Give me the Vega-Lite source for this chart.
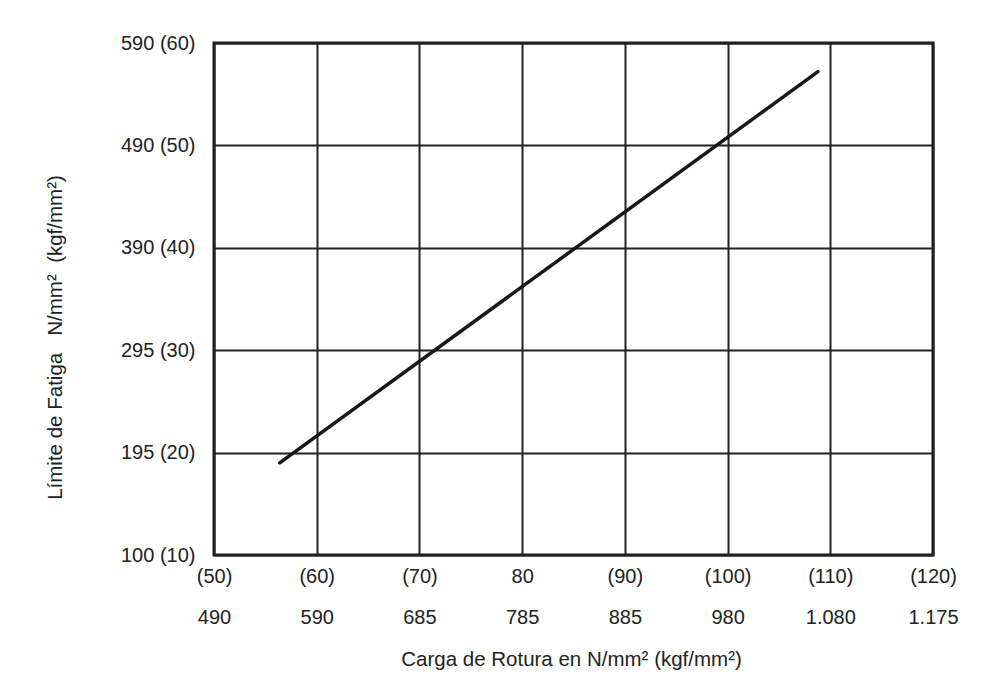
{
  "$schema": "https://vega.github.io/schema/vega-lite/v6.json",
  "width": 719,
  "height": 512,
  "autosize": {"type": "none"},
  "padding": {"left": 214, "top": 43, "right": 66, "bottom": 131},
  "background": "#ffffff",
  "config": {
    "view": {"stroke": "#1a1a1a", "strokeWidth": 3},
    "font": "Liberation Sans",
    "axis": {
      "labelFont": "Liberation Sans",
      "titleFont": "Liberation Sans",
      "labelColor": "#222222",
      "titleColor": "#222222",
      "titleFontWeight": "normal",
      "gridColor": "#222222",
      "gridWidth": 2,
      "gridOpacity": 1,
      "domain": false,
      "ticks": false
    }
  },
  "data": {
    "values": [
      {"rotura_kgf": 56.4, "fatiga_kgf": 19.0},
      {"rotura_kgf": 108.8, "fatiga_kgf": 57.2}
    ]
  },
  "mark": {"type": "line", "color": "#1c1616", "strokeWidth": 3.5, "strokeCap": "round"},
  "encoding": {
    "x": {
      "field": "rotura_kgf",
      "type": "quantitative",
      "scale": {"domain": [50, 120], "nice": false, "zero": false},
      "axis": {
        "values": [50, 60, 70, 80, 90, 100, 110, 120],
        "labelExpr": "[['(50)','490'],['(60)','590'],['(70)','685'],['80','785'],['(90)','885'],['(100)','980'],['(110)','1.080'],['(120)','1.175']][round((datum.value-50)/10)]",
        "labelFontSize": 20,
        "labelLineHeight": 41,
        "labelBaseline": "top",
        "labelPadding": 11,
        "labelDx": 5,
        "labelFlush": false,
        "labelOverlap": false,
        "title": "Carga de Rotura en N/mm² (kgf/mm²)",
        "titleFontSize": 20.5,
        "titleX": 357,
        "titleY": 104,
        "titleBaseline": "middle",
        "titleAnchor": "middle"
      }
    },
    "y": {
      "field": "fatiga_kgf",
      "type": "quantitative",
      "scale": {"domain": [10, 60], "nice": false, "zero": false},
      "axis": {
        "values": [10, 20, 30, 40, 50, 60],
        "labelExpr": "['100 (10)','195 (20)','295 (30)','390 (40)','490 (50)','590 (60)'][round((datum.value-10)/10)]",
        "labelFontSize": 20,
        "labelPadding": 19,
        "labelDy": 3,
        "labelFlush": false,
        "labelOverlap": false,
        "title": "Límite de Fatiga\u00a0\u00a0\u00a0N/mm²\u00a0\u00a0(kgf/mm²)",
        "titleFontSize": 20.5,
        "titleAngle": -90,
        "titleX": -159,
        "titleY": 294,
        "titleBaseline": "middle",
        "titleAlign": "center"
      }
    }
  }
}
